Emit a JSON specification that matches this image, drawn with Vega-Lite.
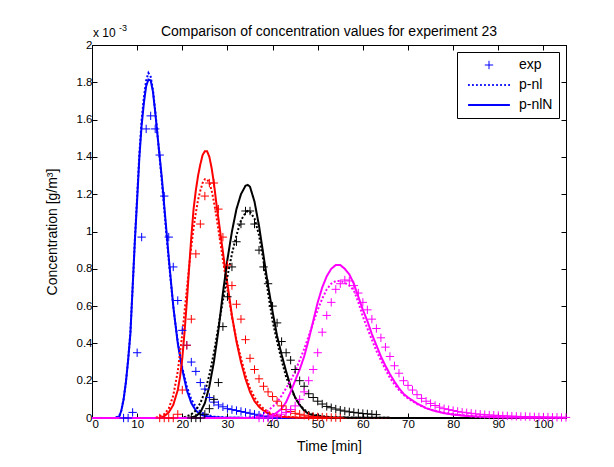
{
  "$schema": "https://vega.github.io/schema/vega-lite/v6.json",
  "width": 474,
  "height": 373,
  "autosize": {"type": "none"},
  "padding": {"left": 92, "top": 45, "right": 48, "bottom": 49},
  "background": "white",
  "title": {"text": "Comparison of concentration values for experiment 23", "fontSize": 14, "fontWeight": "normal", "font": "Liberation Sans", "color": "black", "offset": 8, "dy": 23, "anchor": "middle", "frame": "group"},
  "config": {
    "view": {"stroke": "black", "strokeWidth": 1},
    "axis": {"domainColor": "black", "tickColor": "black", "labelColor": "black", "titleColor": "black", "labelFont": "Liberation Sans", "titleFont": "Liberation Sans", "labelFontSize": 11.5, "titleFontSize": 14, "titleFontWeight": "normal", "tickSize": -5, "labelPadding": 5, "grid": false},
    "legend": {"labelFont": "Liberation Sans", "labelFontSize": 14, "labelColor": "black"}
  },
  "datasets": {
    "model": [
      {"s":"b","k":"p-nl","t":0,"v":0},{"s":"b","k":"p-nl","t":5,"v":0},{"s":"b","k":"p-nl","t":6,"v":0.01},{"s":"b","k":"p-nl","t":6.5,"v":0.04},{"s":"b","k":"p-nl","t":7,"v":0.10},{"s":"b","k":"p-nl","t":7.5,"v":0.19},{"s":"b","k":"p-nl","t":8,"v":0.31},{"s":"b","k":"p-nl","t":8.5,"v":0.46},{"s":"b","k":"p-nl","t":9,"v":0.70},{"s":"b","k":"p-nl","t":9.5,"v":0.96},{"s":"b","k":"p-nl","t":10,"v":1.19},{"s":"b","k":"p-nl","t":10.5,"v":1.42},{"s":"b","k":"p-nl","t":11,"v":1.60},{"s":"b","k":"p-nl","t":11.5,"v":1.72},{"s":"b","k":"p-nl","t":12,"v":1.81},{"s":"b","k":"p-nl","t":12.5,"v":1.85},{"s":"b","k":"p-nl","t":13,"v":1.83},{"s":"b","k":"p-nl","t":13.5,"v":1.76},{"s":"b","k":"p-nl","t":14,"v":1.65},{"s":"b","k":"p-nl","t":14.5,"v":1.52},{"s":"b","k":"p-nl","t":15,"v":1.39},{"s":"b","k":"p-nl","t":15.5,"v":1.26},{"s":"b","k":"p-nl","t":16,"v":1.12},{"s":"b","k":"p-nl","t":16.5,"v":0.98},{"s":"b","k":"p-nl","t":17,"v":0.85},{"s":"b","k":"p-nl","t":17.5,"v":0.72},{"s":"b","k":"p-nl","t":18,"v":0.60},{"s":"b","k":"p-nl","t":18.5,"v":0.50},{"s":"b","k":"p-nl","t":19,"v":0.41},{"s":"b","k":"p-nl","t":19.5,"v":0.34},{"s":"b","k":"p-nl","t":20,"v":0.27},{"s":"b","k":"p-nl","t":21,"v":0.17},{"s":"b","k":"p-nl","t":22,"v":0.10},{"s":"b","k":"p-nl","t":23,"v":0.06},{"s":"b","k":"p-nl","t":24,"v":0.035},{"s":"b","k":"p-nl","t":25,"v":0.02},{"s":"b","k":"p-nl","t":27,"v":0.008},{"s":"b","k":"p-nl","t":30,"v":0.002},{"s":"b","k":"p-nl","t":40,"v":0},{"s":"b","k":"p-nl","t":105,"v":0},
      {"s":"b","k":"p-nlN","t":0,"v":0},{"s":"b","k":"p-nlN","t":5,"v":0},{"s":"b","k":"p-nlN","t":6,"v":0.005},{"s":"b","k":"p-nlN","t":6.5,"v":0.04},{"s":"b","k":"p-nlN","t":7,"v":0.10},{"s":"b","k":"p-nlN","t":7.5,"v":0.19},{"s":"b","k":"p-nlN","t":8,"v":0.31},{"s":"b","k":"p-nlN","t":8.5,"v":0.45},{"s":"b","k":"p-nlN","t":9,"v":0.70},{"s":"b","k":"p-nlN","t":9.5,"v":0.95},{"s":"b","k":"p-nlN","t":10,"v":1.17},{"s":"b","k":"p-nlN","t":10.5,"v":1.40},{"s":"b","k":"p-nlN","t":11,"v":1.57},{"s":"b","k":"p-nlN","t":11.5,"v":1.69},{"s":"b","k":"p-nlN","t":12,"v":1.78},{"s":"b","k":"p-nlN","t":12.5,"v":1.815},{"s":"b","k":"p-nlN","t":13,"v":1.81},{"s":"b","k":"p-nlN","t":13.5,"v":1.75},{"s":"b","k":"p-nlN","t":14,"v":1.64},{"s":"b","k":"p-nlN","t":14.5,"v":1.52},{"s":"b","k":"p-nlN","t":15,"v":1.40},{"s":"b","k":"p-nlN","t":15.5,"v":1.28},{"s":"b","k":"p-nlN","t":16,"v":1.14},{"s":"b","k":"p-nlN","t":16.5,"v":1.00},{"s":"b","k":"p-nlN","t":17,"v":0.86},{"s":"b","k":"p-nlN","t":17.5,"v":0.73},{"s":"b","k":"p-nlN","t":18,"v":0.60},{"s":"b","k":"p-nlN","t":18.5,"v":0.50},{"s":"b","k":"p-nlN","t":19,"v":0.40},{"s":"b","k":"p-nlN","t":19.5,"v":0.33},{"s":"b","k":"p-nlN","t":20,"v":0.26},{"s":"b","k":"p-nlN","t":21,"v":0.15},{"s":"b","k":"p-nlN","t":22,"v":0.08},{"s":"b","k":"p-nlN","t":23,"v":0.04},{"s":"b","k":"p-nlN","t":24,"v":0.02},{"s":"b","k":"p-nlN","t":25,"v":0.01},{"s":"b","k":"p-nlN","t":27,"v":0.004},{"s":"b","k":"p-nlN","t":30,"v":0.001},{"s":"b","k":"p-nlN","t":40,"v":0},{"s":"b","k":"p-nlN","t":105,"v":0},
      {"s":"r","k":"p-nl","t":0,"v":0},{"s":"r","k":"p-nl","t":14,"v":0},{"s":"r","k":"p-nl","t":15,"v":0.01},{"s":"r","k":"p-nl","t":16,"v":0.02},{"s":"r","k":"p-nl","t":17,"v":0.05},{"s":"r","k":"p-nl","t":18,"v":0.12},{"s":"r","k":"p-nl","t":19,"v":0.25},{"s":"r","k":"p-nl","t":20,"v":0.45},{"s":"r","k":"p-nl","t":20.5,"v":0.57},{"s":"r","k":"p-nl","t":21,"v":0.69},{"s":"r","k":"p-nl","t":21.5,"v":0.81},{"s":"r","k":"p-nl","t":22,"v":0.92},{"s":"r","k":"p-nl","t":22.5,"v":1.02},{"s":"r","k":"p-nl","t":23,"v":1.10},{"s":"r","k":"p-nl","t":23.5,"v":1.17},{"s":"r","k":"p-nl","t":24,"v":1.22},{"s":"r","k":"p-nl","t":24.5,"v":1.26},{"s":"r","k":"p-nl","t":25,"v":1.28},{"s":"r","k":"p-nl","t":25.5,"v":1.28},{"s":"r","k":"p-nl","t":26,"v":1.26},{"s":"r","k":"p-nl","t":26.5,"v":1.22},{"s":"r","k":"p-nl","t":27,"v":1.16},{"s":"r","k":"p-nl","t":27.5,"v":1.09},{"s":"r","k":"p-nl","t":28,"v":1.01},{"s":"r","k":"p-nl","t":28.5,"v":0.93},{"s":"r","k":"p-nl","t":29,"v":0.85},{"s":"r","k":"p-nl","t":29.5,"v":0.77},{"s":"r","k":"p-nl","t":30,"v":0.69},{"s":"r","k":"p-nl","t":31,"v":0.54},{"s":"r","k":"p-nl","t":32,"v":0.42},{"s":"r","k":"p-nl","t":33,"v":0.32},{"s":"r","k":"p-nl","t":34,"v":0.23},{"s":"r","k":"p-nl","t":35,"v":0.16},{"s":"r","k":"p-nl","t":36,"v":0.11},{"s":"r","k":"p-nl","t":37,"v":0.075},{"s":"r","k":"p-nl","t":38,"v":0.05},{"s":"r","k":"p-nl","t":39,"v":0.033},{"s":"r","k":"p-nl","t":40,"v":0.022},{"s":"r","k":"p-nl","t":42,"v":0.01},{"s":"r","k":"p-nl","t":45,"v":0.003},{"s":"r","k":"p-nl","t":50,"v":0},{"s":"r","k":"p-nl","t":105,"v":0},
      {"s":"r","k":"p-nlN","t":0,"v":0},{"s":"r","k":"p-nlN","t":15,"v":0},{"s":"r","k":"p-nlN","t":16,"v":0.01},{"s":"r","k":"p-nlN","t":17,"v":0.03},{"s":"r","k":"p-nlN","t":18,"v":0.07},{"s":"r","k":"p-nlN","t":19,"v":0.15},{"s":"r","k":"p-nlN","t":19.5,"v":0.22},{"s":"r","k":"p-nlN","t":20,"v":0.32},{"s":"r","k":"p-nlN","t":20.5,"v":0.46},{"s":"r","k":"p-nlN","t":21,"v":0.62},{"s":"r","k":"p-nlN","t":21.5,"v":0.80},{"s":"r","k":"p-nlN","t":22,"v":0.97},{"s":"r","k":"p-nlN","t":22.5,"v":1.12},{"s":"r","k":"p-nlN","t":23,"v":1.22},{"s":"r","k":"p-nlN","t":23.5,"v":1.30},{"s":"r","k":"p-nlN","t":24,"v":1.36},{"s":"r","k":"p-nlN","t":24.5,"v":1.41},{"s":"r","k":"p-nlN","t":25,"v":1.43},{"s":"r","k":"p-nlN","t":25.5,"v":1.43},{"s":"r","k":"p-nlN","t":26,"v":1.40},{"s":"r","k":"p-nlN","t":26.5,"v":1.34},{"s":"r","k":"p-nlN","t":27,"v":1.26},{"s":"r","k":"p-nlN","t":27.5,"v":1.16},{"s":"r","k":"p-nlN","t":28,"v":1.07},{"s":"r","k":"p-nlN","t":28.5,"v":0.98},{"s":"r","k":"p-nlN","t":29,"v":0.89},{"s":"r","k":"p-nlN","t":29.5,"v":0.80},{"s":"r","k":"p-nlN","t":30,"v":0.72},{"s":"r","k":"p-nlN","t":31,"v":0.55},{"s":"r","k":"p-nlN","t":32,"v":0.41},{"s":"r","k":"p-nlN","t":33,"v":0.30},{"s":"r","k":"p-nlN","t":34,"v":0.21},{"s":"r","k":"p-nlN","t":35,"v":0.14},{"s":"r","k":"p-nlN","t":36,"v":0.09},{"s":"r","k":"p-nlN","t":37,"v":0.06},{"s":"r","k":"p-nlN","t":38,"v":0.04},{"s":"r","k":"p-nlN","t":39,"v":0.025},{"s":"r","k":"p-nlN","t":40,"v":0.015},{"s":"r","k":"p-nlN","t":42,"v":0.006},{"s":"r","k":"p-nlN","t":45,"v":0.002},{"s":"r","k":"p-nlN","t":50,"v":0},{"s":"r","k":"p-nlN","t":105,"v":0},
      {"s":"k","k":"p-nl","t":0,"v":0},{"s":"k","k":"p-nl","t":20,"v":0},{"s":"k","k":"p-nl","t":21,"v":0.01},{"s":"k","k":"p-nl","t":22,"v":0.02},{"s":"k","k":"p-nl","t":23,"v":0.04},{"s":"k","k":"p-nl","t":24,"v":0.08},{"s":"k","k":"p-nl","t":25,"v":0.14},{"s":"k","k":"p-nl","t":26,"v":0.23},{"s":"k","k":"p-nl","t":27,"v":0.35},{"s":"k","k":"p-nl","t":28,"v":0.49},{"s":"k","k":"p-nl","t":29,"v":0.63},{"s":"k","k":"p-nl","t":30,"v":0.76},{"s":"k","k":"p-nl","t":31,"v":0.88},{"s":"k","k":"p-nl","t":32,"v":0.98},{"s":"k","k":"p-nl","t":33,"v":1.06},{"s":"k","k":"p-nl","t":34,"v":1.10},{"s":"k","k":"p-nl","t":34.5,"v":1.11},{"s":"k","k":"p-nl","t":35,"v":1.105},{"s":"k","k":"p-nl","t":36,"v":1.07},{"s":"k","k":"p-nl","t":37,"v":0.98},{"s":"k","k":"p-nl","t":38,"v":0.84},{"s":"k","k":"p-nl","t":39,"v":0.67},{"s":"k","k":"p-nl","t":40,"v":0.52},{"s":"k","k":"p-nl","t":41,"v":0.41},{"s":"k","k":"p-nl","t":42,"v":0.31},{"s":"k","k":"p-nl","t":43,"v":0.22},{"s":"k","k":"p-nl","t":44,"v":0.16},{"s":"k","k":"p-nl","t":45,"v":0.11},{"s":"k","k":"p-nl","t":46,"v":0.07},{"s":"k","k":"p-nl","t":47,"v":0.045},{"s":"k","k":"p-nl","t":48,"v":0.03},{"s":"k","k":"p-nl","t":50,"v":0.013},{"s":"k","k":"p-nl","t":53,"v":0.004},{"s":"k","k":"p-nl","t":60,"v":0.001},{"s":"k","k":"p-nl","t":78,"v":0},{"s":"k","k":"p-nl","t":105,"v":0},
      {"s":"k","k":"p-nlN","t":0,"v":0},{"s":"k","k":"p-nlN","t":20,"v":0},{"s":"k","k":"p-nlN","t":22,"v":0.003},{"s":"k","k":"p-nlN","t":23,"v":0.01},{"s":"k","k":"p-nlN","t":24,"v":0.03},{"s":"k","k":"p-nlN","t":25,"v":0.08},{"s":"k","k":"p-nlN","t":26,"v":0.17},{"s":"k","k":"p-nlN","t":27,"v":0.30},{"s":"k","k":"p-nlN","t":28,"v":0.47},{"s":"k","k":"p-nlN","t":29,"v":0.67},{"s":"k","k":"p-nlN","t":30,"v":0.85},{"s":"k","k":"p-nlN","t":31,"v":1.00},{"s":"k","k":"p-nlN","t":32,"v":1.12},{"s":"k","k":"p-nlN","t":33,"v":1.20},{"s":"k","k":"p-nlN","t":34,"v":1.245},{"s":"k","k":"p-nlN","t":34.5,"v":1.25},{"s":"k","k":"p-nlN","t":35,"v":1.24},{"s":"k","k":"p-nlN","t":36,"v":1.16},{"s":"k","k":"p-nlN","t":37,"v":1.03},{"s":"k","k":"p-nlN","t":38,"v":0.87},{"s":"k","k":"p-nlN","t":39,"v":0.71},{"s":"k","k":"p-nlN","t":40,"v":0.57},{"s":"k","k":"p-nlN","t":41,"v":0.44},{"s":"k","k":"p-nlN","t":42,"v":0.34},{"s":"k","k":"p-nlN","t":43,"v":0.25},{"s":"k","k":"p-nlN","t":44,"v":0.17},{"s":"k","k":"p-nlN","t":45,"v":0.11},{"s":"k","k":"p-nlN","t":46,"v":0.07},{"s":"k","k":"p-nlN","t":47,"v":0.04},{"s":"k","k":"p-nlN","t":48,"v":0.022},{"s":"k","k":"p-nlN","t":50,"v":0.008},{"s":"k","k":"p-nlN","t":53,"v":0.003},{"s":"k","k":"p-nlN","t":60,"v":0.001},{"s":"k","k":"p-nlN","t":78,"v":0},{"s":"k","k":"p-nlN","t":105,"v":0},
      {"s":"m","k":"p-nl","t":0,"v":0},{"s":"m","k":"p-nl","t":34,"v":0},{"s":"m","k":"p-nl","t":36,"v":0.005},{"s":"m","k":"p-nl","t":38,"v":0.025},{"s":"m","k":"p-nl","t":39,"v":0.04},{"s":"m","k":"p-nl","t":40,"v":0.06},{"s":"m","k":"p-nl","t":41,"v":0.085},{"s":"m","k":"p-nl","t":42,"v":0.12},{"s":"m","k":"p-nl","t":43,"v":0.16},{"s":"m","k":"p-nl","t":44,"v":0.20},{"s":"m","k":"p-nl","t":45,"v":0.25},{"s":"m","k":"p-nl","t":46,"v":0.31},{"s":"m","k":"p-nl","t":47,"v":0.37},{"s":"m","k":"p-nl","t":48,"v":0.44},{"s":"m","k":"p-nl","t":49,"v":0.51},{"s":"m","k":"p-nl","t":50,"v":0.58},{"s":"m","k":"p-nl","t":51,"v":0.64},{"s":"m","k":"p-nl","t":52,"v":0.69},{"s":"m","k":"p-nl","t":53,"v":0.72},{"s":"m","k":"p-nl","t":54,"v":0.735},{"s":"m","k":"p-nl","t":55,"v":0.735},{"s":"m","k":"p-nl","t":56,"v":0.725},{"s":"m","k":"p-nl","t":57,"v":0.71},{"s":"m","k":"p-nl","t":58,"v":0.685},{"s":"m","k":"p-nl","t":59,"v":0.62},{"s":"m","k":"p-nl","t":60,"v":0.545},{"s":"m","k":"p-nl","t":61,"v":0.48},{"s":"m","k":"p-nl","t":62,"v":0.42},{"s":"m","k":"p-nl","t":63,"v":0.36},{"s":"m","k":"p-nl","t":64,"v":0.31},{"s":"m","k":"p-nl","t":65,"v":0.26},{"s":"m","k":"p-nl","t":66,"v":0.215},{"s":"m","k":"p-nl","t":67,"v":0.18},{"s":"m","k":"p-nl","t":68,"v":0.15},{"s":"m","k":"p-nl","t":69,"v":0.125},{"s":"m","k":"p-nl","t":70,"v":0.105},{"s":"m","k":"p-nl","t":72,"v":0.075},{"s":"m","k":"p-nl","t":74,"v":0.053},{"s":"m","k":"p-nl","t":76,"v":0.038},{"s":"m","k":"p-nl","t":78,"v":0.028},{"s":"m","k":"p-nl","t":80,"v":0.02},{"s":"m","k":"p-nl","t":83,"v":0.013},{"s":"m","k":"p-nl","t":86,"v":0.009},{"s":"m","k":"p-nl","t":90,"v":0.005},{"s":"m","k":"p-nl","t":95,"v":0.003},{"s":"m","k":"p-nl","t":105,"v":0.001},
      {"s":"m","k":"p-nlN","t":0,"v":0},{"s":"m","k":"p-nlN","t":36,"v":0},{"s":"m","k":"p-nlN","t":38,"v":0.005},{"s":"m","k":"p-nlN","t":40,"v":0.015},{"s":"m","k":"p-nlN","t":41,"v":0.03},{"s":"m","k":"p-nlN","t":42,"v":0.05},{"s":"m","k":"p-nlN","t":43,"v":0.085},{"s":"m","k":"p-nlN","t":44,"v":0.14},{"s":"m","k":"p-nlN","t":45,"v":0.20},{"s":"m","k":"p-nlN","t":46,"v":0.26},{"s":"m","k":"p-nlN","t":47,"v":0.33},{"s":"m","k":"p-nlN","t":48,"v":0.42},{"s":"m","k":"p-nlN","t":49,"v":0.52},{"s":"m","k":"p-nlN","t":50,"v":0.62},{"s":"m","k":"p-nlN","t":51,"v":0.70},{"s":"m","k":"p-nlN","t":52,"v":0.76},{"s":"m","k":"p-nlN","t":53,"v":0.80},{"s":"m","k":"p-nlN","t":54,"v":0.82},{"s":"m","k":"p-nlN","t":55,"v":0.82},{"s":"m","k":"p-nlN","t":56,"v":0.80},{"s":"m","k":"p-nlN","t":57,"v":0.77},{"s":"m","k":"p-nlN","t":58,"v":0.72},{"s":"m","k":"p-nlN","t":59,"v":0.65},{"s":"m","k":"p-nlN","t":60,"v":0.58},{"s":"m","k":"p-nlN","t":61,"v":0.52},{"s":"m","k":"p-nlN","t":62,"v":0.45},{"s":"m","k":"p-nlN","t":63,"v":0.39},{"s":"m","k":"p-nlN","t":64,"v":0.33},{"s":"m","k":"p-nlN","t":65,"v":0.28},{"s":"m","k":"p-nlN","t":66,"v":0.235},{"s":"m","k":"p-nlN","t":67,"v":0.195},{"s":"m","k":"p-nlN","t":68,"v":0.16},{"s":"m","k":"p-nlN","t":69,"v":0.13},{"s":"m","k":"p-nlN","t":70,"v":0.11},{"s":"m","k":"p-nlN","t":72,"v":0.078},{"s":"m","k":"p-nlN","t":74,"v":0.053},{"s":"m","k":"p-nlN","t":76,"v":0.037},{"s":"m","k":"p-nlN","t":78,"v":0.026},{"s":"m","k":"p-nlN","t":80,"v":0.018},{"s":"m","k":"p-nlN","t":83,"v":0.011},{"s":"m","k":"p-nlN","t":86,"v":0.007},{"s":"m","k":"p-nlN","t":90,"v":0.004},{"s":"m","k":"p-nlN","t":95,"v":0.002},{"s":"m","k":"p-nlN","t":105,"v":0.001}
    ],
    "exp": [
      {"s":"b","k":"exp","t":7,"v":0},{"s":"b","k":"exp","t":8,"v":0},{"s":"b","k":"exp","t":9,"v":0.03},{"s":"b","k":"exp","t":10,"v":0.35},{"s":"b","k":"exp","t":11,"v":0.97},{"s":"b","k":"exp","t":12,"v":1.55},{"s":"b","k":"exp","t":13,"v":1.62},{"s":"b","k":"exp","t":14,"v":1.55},{"s":"b","k":"exp","t":15,"v":1.41},{"s":"b","k":"exp","t":16,"v":1.19},{"s":"b","k":"exp","t":17,"v":0.97},{"s":"b","k":"exp","t":18,"v":0.81},{"s":"b","k":"exp","t":19,"v":0.63},{"s":"b","k":"exp","t":20,"v":0.47},{"s":"b","k":"exp","t":21,"v":0.39},{"s":"b","k":"exp","t":22,"v":0.30},{"s":"b","k":"exp","t":23,"v":0.25},{"s":"b","k":"exp","t":24,"v":0.19},{"s":"b","k":"exp","t":25,"v":0.155},{"s":"b","k":"exp","t":26,"v":0.11},{"s":"b","k":"exp","t":27,"v":0.085},{"s":"b","k":"exp","t":28,"v":0.07},{"s":"b","k":"exp","t":29,"v":0.06},{"s":"b","k":"exp","t":30,"v":0.05},{"s":"b","k":"exp","t":31,"v":0.045},{"s":"b","k":"exp","t":32,"v":0.04},{"s":"b","k":"exp","t":33,"v":0.035},{"s":"b","k":"exp","t":34,"v":0.03},{"s":"b","k":"exp","t":35,"v":0.025},{"s":"b","k":"exp","t":36,"v":0.02},{"s":"b","k":"exp","t":37,"v":0.015},{"s":"b","k":"exp","t":38,"v":0.01},{"s":"b","k":"exp","t":39,"v":0.005},
      {"s":"r","k":"exp","t":15,"v":0},{"s":"r","k":"exp","t":16,"v":0},{"s":"r","k":"exp","t":17,"v":0},{"s":"r","k":"exp","t":18,"v":0},{"s":"r","k":"exp","t":19,"v":0.02},{"s":"r","k":"exp","t":20,"v":0.15},{"s":"r","k":"exp","t":21,"v":0.39},{"s":"r","k":"exp","t":22,"v":0.53},{"s":"r","k":"exp","t":23,"v":0.88},{"s":"r","k":"exp","t":24,"v":1.04},{"s":"r","k":"exp","t":25,"v":1.19},{"s":"r","k":"exp","t":26,"v":1.26},{"s":"r","k":"exp","t":27,"v":1.26},{"s":"r","k":"exp","t":28,"v":1.12},{"s":"r","k":"exp","t":29,"v":0.97},{"s":"r","k":"exp","t":30,"v":0.82},{"s":"r","k":"exp","t":31,"v":0.71},{"s":"r","k":"exp","t":32,"v":0.61},{"s":"r","k":"exp","t":33,"v":0.53},{"s":"r","k":"exp","t":34,"v":0.42},{"s":"r","k":"exp","t":35,"v":0.32},{"s":"r","k":"exp","t":36,"v":0.26},{"s":"r","k":"exp","t":37,"v":0.21},{"s":"r","k":"exp","t":38,"v":0.17},{"s":"r","k":"exp","t":39,"v":0.14},{"s":"r","k":"exp","t":40,"v":0.115},{"s":"r","k":"exp","t":41,"v":0.09},{"s":"r","k":"exp","t":42,"v":0.065},{"s":"r","k":"exp","t":43,"v":0.045},{"s":"r","k":"exp","t":44,"v":0.035},{"s":"r","k":"exp","t":45,"v":0.025},{"s":"r","k":"exp","t":46,"v":0.02},{"s":"r","k":"exp","t":47,"v":0.015},{"s":"r","k":"exp","t":48,"v":0.01},{"s":"r","k":"exp","t":49,"v":0.008},{"s":"r","k":"exp","t":50,"v":0.006},{"s":"r","k":"exp","t":51,"v":0.005},{"s":"r","k":"exp","t":52,"v":0.004},{"s":"r","k":"exp","t":53,"v":0.003},{"s":"r","k":"exp","t":54,"v":0.002},{"s":"r","k":"exp","t":55,"v":0.001},
      {"s":"k","k":"exp","t":22,"v":0},{"s":"k","k":"exp","t":23,"v":0},{"s":"k","k":"exp","t":24,"v":0},{"s":"k","k":"exp","t":25,"v":0.02},{"s":"k","k":"exp","t":26,"v":0.05},{"s":"k","k":"exp","t":27,"v":0.10},{"s":"k","k":"exp","t":28,"v":0.19},{"s":"k","k":"exp","t":29,"v":0.49},{"s":"k","k":"exp","t":30,"v":0.65},{"s":"k","k":"exp","t":31,"v":0.81},{"s":"k","k":"exp","t":32,"v":0.945},{"s":"k","k":"exp","t":33,"v":1.04},{"s":"k","k":"exp","t":34,"v":1.11},{"s":"k","k":"exp","t":35,"v":1.11},{"s":"k","k":"exp","t":36,"v":1.04},{"s":"k","k":"exp","t":37,"v":0.90},{"s":"k","k":"exp","t":38,"v":0.81},{"s":"k","k":"exp","t":39,"v":0.72},{"s":"k","k":"exp","t":40,"v":0.60},{"s":"k","k":"exp","t":41,"v":0.51},{"s":"k","k":"exp","t":42,"v":0.41},{"s":"k","k":"exp","t":43,"v":0.35},{"s":"k","k":"exp","t":44,"v":0.31},{"s":"k","k":"exp","t":45,"v":0.26},{"s":"k","k":"exp","t":46,"v":0.20},{"s":"k","k":"exp","t":47,"v":0.17},{"s":"k","k":"exp","t":48,"v":0.13},{"s":"k","k":"exp","t":49,"v":0.11},{"s":"k","k":"exp","t":50,"v":0.09},{"s":"k","k":"exp","t":51,"v":0.075},{"s":"k","k":"exp","t":52,"v":0.062},{"s":"k","k":"exp","t":53,"v":0.055},{"s":"k","k":"exp","t":54,"v":0.048},{"s":"k","k":"exp","t":55,"v":0.042},{"s":"k","k":"exp","t":56,"v":0.037},{"s":"k","k":"exp","t":57,"v":0.033},{"s":"k","k":"exp","t":58,"v":0.03},{"s":"k","k":"exp","t":59,"v":0.027},{"s":"k","k":"exp","t":60,"v":0.024},{"s":"k","k":"exp","t":61,"v":0.022},{"s":"k","k":"exp","t":62,"v":0.02},{"s":"k","k":"exp","t":63,"v":0.018},
      {"s":"m","k":"exp","t":37,"v":0},{"s":"m","k":"exp","t":38,"v":0},{"s":"m","k":"exp","t":39,"v":0},{"s":"m","k":"exp","t":40,"v":0.005},{"s":"m","k":"exp","t":41,"v":0.01},{"s":"m","k":"exp","t":42,"v":0.02},{"s":"m","k":"exp","t":43,"v":0.03},{"s":"m","k":"exp","t":44,"v":0.045},{"s":"m","k":"exp","t":45,"v":0.065},{"s":"m","k":"exp","t":46,"v":0.10},{"s":"m","k":"exp","t":47,"v":0.14},{"s":"m","k":"exp","t":48,"v":0.20},{"s":"m","k":"exp","t":49,"v":0.26},{"s":"m","k":"exp","t":50,"v":0.35},{"s":"m","k":"exp","t":51,"v":0.46},{"s":"m","k":"exp","t":52,"v":0.55},{"s":"m","k":"exp","t":53,"v":0.62},{"s":"m","k":"exp","t":54,"v":0.69},{"s":"m","k":"exp","t":55,"v":0.72},{"s":"m","k":"exp","t":56,"v":0.74},{"s":"m","k":"exp","t":57,"v":0.735},{"s":"m","k":"exp","t":58,"v":0.71},{"s":"m","k":"exp","t":59,"v":0.67},{"s":"m","k":"exp","t":60,"v":0.62},{"s":"m","k":"exp","t":61,"v":0.58},{"s":"m","k":"exp","t":62,"v":0.53},{"s":"m","k":"exp","t":63,"v":0.48},{"s":"m","k":"exp","t":64,"v":0.43},{"s":"m","k":"exp","t":65,"v":0.38},{"s":"m","k":"exp","t":66,"v":0.33},{"s":"m","k":"exp","t":67,"v":0.28},{"s":"m","k":"exp","t":68,"v":0.24},{"s":"m","k":"exp","t":69,"v":0.20},{"s":"m","k":"exp","t":70,"v":0.175},{"s":"m","k":"exp","t":71,"v":0.15},{"s":"m","k":"exp","t":72,"v":0.125},{"s":"m","k":"exp","t":73,"v":0.105},{"s":"m","k":"exp","t":74,"v":0.09},{"s":"m","k":"exp","t":75,"v":0.078},{"s":"m","k":"exp","t":76,"v":0.067},{"s":"m","k":"exp","t":77,"v":0.058},{"s":"m","k":"exp","t":78,"v":0.05},{"s":"m","k":"exp","t":79,"v":0.045},{"s":"m","k":"exp","t":80,"v":0.04},{"s":"m","k":"exp","t":81,"v":0.035},{"s":"m","k":"exp","t":82,"v":0.031},{"s":"m","k":"exp","t":83,"v":0.028},{"s":"m","k":"exp","t":84,"v":0.025},{"s":"m","k":"exp","t":85,"v":0.022},{"s":"m","k":"exp","t":86,"v":0.02},{"s":"m","k":"exp","t":87,"v":0.018},{"s":"m","k":"exp","t":88,"v":0.016},{"s":"m","k":"exp","t":89,"v":0.015},{"s":"m","k":"exp","t":90,"v":0.013},{"s":"m","k":"exp","t":91,"v":0.012},{"s":"m","k":"exp","t":92,"v":0.011},{"s":"m","k":"exp","t":93,"v":0.01},{"s":"m","k":"exp","t":94,"v":0.009},{"s":"m","k":"exp","t":95,"v":0.008},{"s":"m","k":"exp","t":96,"v":0.008},{"s":"m","k":"exp","t":97,"v":0.007},{"s":"m","k":"exp","t":98,"v":0.006},{"s":"m","k":"exp","t":99,"v":0.006},{"s":"m","k":"exp","t":100,"v":0.005},{"s":"m","k":"exp","t":101,"v":0.005},{"s":"m","k":"exp","t":102,"v":0.004},{"s":"m","k":"exp","t":103,"v":0.004},{"s":"m","k":"exp","t":104,"v":0.003},{"s":"m","k":"exp","t":105,"v":0.003}
    ]
  },
  "layer": [
    {
      "data": {"name": "model"},
      "mark": {"type": "line", "strokeWidth": 2},
      "encoding": {
        "x": {"field": "t", "type": "quantitative", "scale": {"domain": [0, 105], "nice": false, "zero": false}, "axis": {"orient": "bottom", "title": "Time [min]", "values": [0,10,20,30,40,50,60,70,80,90,100], "titlePadding": 10}},
        "y": {"field": "v", "type": "quantitative", "scale": {"domain": [0, 2], "nice": false}, "axis": {"orient": "left", "title": "Concentration [g/m³]", "values": [0,0.2,0.4,0.6,0.8,1,1.2,1.4,1.6,1.8,2], "format": "~r", "titleX": -40, "titleBaseline": "middle"}},
        "color": {"field": "s", "type": "nominal", "scale": {"domain": ["b","r","k","m"], "range": ["#0000ff","#ff0000","#000000","#ff00ff"]}, "legend": null},
        "strokeDash": {"field": "k", "type": "nominal", "scale": {"domain": ["p-nl","p-nlN"], "range": [[2,2],[1,0]]}, "legend": null}
      }
    },
    {
      "data": {"name": "exp"},
      "mark": {"type": "point", "filled": false, "strokeWidth": 1, "size": 70, "opacity": 1},
      "encoding": {
        "x": {"field": "t", "type": "quantitative", "axis": {"orient": "top", "labels": false, "title": null, "values": [0,10,20,30,40,50,60,70,80,90,100]}},
        "y": {"field": "v", "type": "quantitative", "axis": {"orient": "right", "labels": false, "title": null, "values": [0,0.2,0.4,0.6,0.8,1,1.2,1.4,1.6,1.8,2]}},
        "color": {"field": "s", "type": "nominal", "legend": null},
        "shape": {"field": "k", "type": "nominal",
          "scale": {"domain": ["exp","p-nl","p-nlN"], "range": [
            "M-1,0L1,0M0,-1L0,1",
            "M-5,-0.12L-4.6,-0.12M-5,0.12L-4.6,0.12M-4.04,-0.12L-3.64,-0.12M-4.04,0.12L-3.64,0.12M-3.08,-0.12L-2.68,-0.12M-3.08,0.12L-2.68,0.12M-2.12,-0.12L-1.72,-0.12M-2.12,0.12L-1.72,0.12M-1.16,-0.12L-0.76,-0.12M-1.16,0.12L-0.76,0.12M-0.2,-0.12L0.2,-0.12M-0.2,0.12L0.2,0.12M0.76,-0.12L1.16,-0.12M0.76,0.12L1.16,0.12M1.72,-0.12L2.12,-0.12M1.72,0.12L2.12,0.12M2.68,-0.12L3.08,-0.12M2.68,0.12L3.08,0.12M3.64,-0.12L4.04,-0.12M3.64,0.12L4.04,0.12M4.6,-0.12L5,-0.12M4.6,0.12L5,0.12",
            "M-5,-0.12L5,-0.12M-5,0.12L5,0.12"
          ]},
          "legend": {"title": null, "orient": "top-right", "offset": 7, "padding": 6, "strokeColor": "black", "fillColor": "white", "rowPadding": 6, "symbolSize": 70, "symbolOffset": 19, "labelOffset": 23, "symbolStrokeColor": "#0000ff", "symbolFillColor": "transparent", "symbolStrokeWidth": 1, "symbolOpacity": 1}
        }
      }
    },
    {
      "data": {"values": [{"label": "x 10"}]},
      "mark": {"type": "text", "align": "left", "baseline": "alphabetic", "dx": 1, "dy": -8, "fontSize": 12, "font": "Liberation Sans", "color": "black"},
      "encoding": {"x": {"datum": 0, "type": "quantitative", "axis": null}, "y": {"datum": 2, "type": "quantitative", "axis": null}, "text": {"field": "label"}}
    },
    {
      "data": {"values": [{"label": "-3"}]},
      "mark": {"type": "text", "align": "left", "baseline": "alphabetic", "dx": 27, "dy": -14, "fontSize": 9, "font": "Liberation Sans", "color": "black"},
      "encoding": {"x": {"datum": 0, "type": "quantitative", "axis": null}, "y": {"datum": 2, "type": "quantitative", "axis": null}, "text": {"field": "label"}}
    }
  ],
  "resolve": {"axis": {"x": "independent", "y": "independent"}}
}
